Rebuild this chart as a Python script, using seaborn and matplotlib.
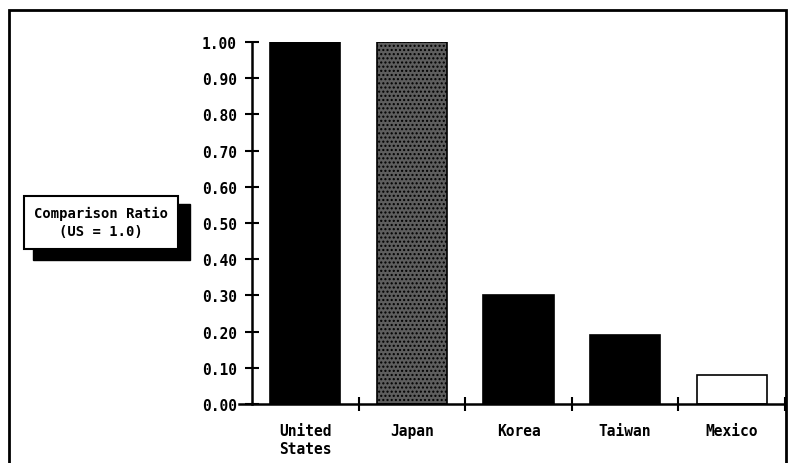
import numpy as np
import pandas as pd
import matplotlib.pyplot as plt
import seaborn as sns
from matplotlib.patches import Rectangle

# 데이터
countries = ['United\nStates', 'Japan', 'Korea', 'Taiwan', 'Mexico']
ratios = [1.00, 1.00, 0.30, 0.19, 0.08]
bar_colors = ['#000000', '#5e5e5e', '#000000', '#000000', '#ffffff']
yticks = [0.0, 0.1, 0.2, 0.3, 0.4, 0.5, 0.6, 0.7, 0.8, 0.9, 1.0]

df = pd.DataFrame({'country': countries, 'ratio': ratios})

sns.set_style('white')
plt.rcParams['font.family'] = ['DejaVu Sans Mono']
plt.rcParams['text.color'] = 'black'
plt.rcParams['xtick.color'] = 'black'
plt.rcParams['ytick.color'] = 'black'

fig = plt.figure(figsize=(7.89, 4.64), dpi=100)
ax = fig.add_axes([252/789, 59/464, (785-252)/789, (405-43)/464])

sns.barplot(data=df, x='country', y='ratio', hue='country', palette=bar_colors,
            legend=False, width=0.66, edgecolor='black', linewidth=1.2,
            saturation=1, ax=ax)

# 일본 막대는 점묘 패턴
ax.patches[1].set_hatch('....')

ax.set_xlim(-0.5, 4.5)
ax.set_ylim(0, 1.0)
ax.set_xlabel('')
ax.set_ylabel('')

ax.set_yticks(yticks)
ax.set_yticklabels(['%.2f' % v for v in yticks], fontsize=10.5, fontweight='bold')
ax.tick_params(axis='y', left=True, direction='inout', length=10, width=1.5, pad=6)

# x축: 경계에 눈금, 가운데에 라벨
ax.set_xticks([0.5, 1.5, 2.5, 3.5, 4.5])
ax.set_xticklabels([])
ax.set_xticks(range(len(countries)), minor=True)
ax.set_xticklabels(countries, minor=True, fontsize=10.5, fontweight='bold')
ax.tick_params(axis='x', which='major', bottom=True, direction='inout', length=10, width=1.5)
ax.tick_params(axis='x', which='minor', bottom=True, length=0, pad=14)

for s in ['top', 'right']:
    ax.spines[s].set_visible(False)
ax.spines['left'].set_linewidth(1.8)
ax.spines['left'].set_color('black')
ax.spines['bottom'].set_linewidth(1.8)
ax.spines['bottom'].set_color('black')
ax.spines['bottom'].set_bounds(-0.62, 4.5)

# 라벨 박스 (그림자 포함)
fig.patches.append(Rectangle((33/789, 1-261/464), 157/789, 56/464,
                             transform=fig.transFigure, facecolor='black',
                             edgecolor='black', zorder=1))
fig.patches.append(Rectangle((24/789, 1-250/464), 154/789, 53/464,
                             transform=fig.transFigure, facecolor='white',
                             edgecolor='black', linewidth=1.5, zorder=2))
fig.text(101/789, 1-223/464, 'Comparison Ratio\n(US = 1.0)', ha='center', va='center',
         fontsize=10, fontweight='bold', linespacing=1.3, zorder=3)

# 바깥 테두리
fig.patches.append(Rectangle((9/789, -0.05), 777/789, 1.05-11/464,
                             transform=fig.transFigure, fill=False,
                             edgecolor='black', linewidth=2))

fig.savefig('out.png', dpi=100)
